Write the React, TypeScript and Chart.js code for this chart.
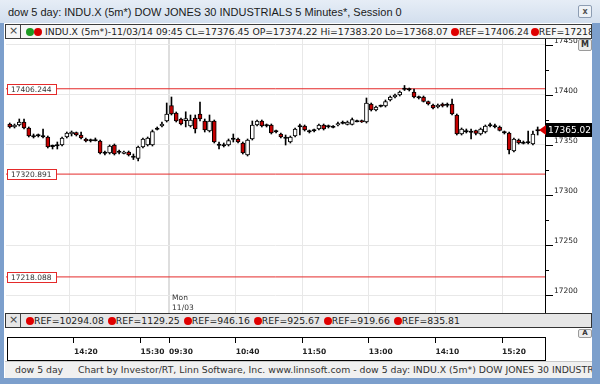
import React, { useEffect, useRef } from 'react';
import { Chart, registerables } from 'chart.js';
Chart.register(...registerables);

// ---- data (5-minute bars, 13:10 previous session .. 15:55 11/03) ----
const opens = [
  17371, 17368, 17370, 17373, 17367, 17359, 17359.5, 17358.5, 17358, 17349,
  17349.5, 17350, 17358, 17361, 17362.5, 17360, 17356, 17355, 17354.5, 17354,
  17342, 17342, 17350, 17343, 17341.5, 17343, 17338, 17336.5, 17348, 17350,
  17350, 17366, 17369, 17374, 17389.5, 17382, 17376, 17374.22, 17369, 17377,
  17381, 17374, 17364, 17374, 17350, 17350, 17350, 17356, 17356, 17352,
  17340, 17356, 17370, 17374, 17369.5, 17370, 17363.5, 17361, 17357, 17353,
  17359, 17368.5, 17369, 17364, 17364.5, 17366, 17370, 17368.5, 17368, 17370,
  17372, 17370.5, 17370.5, 17373.5, 17374.5, 17373, 17391, 17385, 17389, 17389,
  17395, 17398, 17400, 17406, 17406, 17403, 17398, 17398, 17393.5, 17390,
  17388, 17391, 17390, 17391, 17380, 17361, 17364, 17363, 17364.5, 17361,
  17363, 17370, 17368.5, 17368, 17363, 17362, 17344, 17355, 17352, 17352.5,
  17351, 17364.5,
];
const highs = [
  17372, 17371, 17376, 17376, 17368, 17361, 17361, 17366, 17359, 17350,
  17353, 17358, 17363, 17364, 17363, 17363, 17357, 17356, 17357, 17355,
  17344, 17350, 17351, 17345, 17344, 17344, 17341, 17349, 17357, 17358,
  17365, 17368, 17373, 17392, 17398, 17383, 17377, 17383.2, 17380, 17380,
  17393, 17376, 17380, 17375, 17353, 17352, 17356, 17361, 17357, 17353,
  17356, 17374, 17375, 17375, 17371, 17371, 17365, 17362, 17360, 17359,
  17367, 17371, 17370, 17365, 17366, 17371, 17371, 17370, 17369.5, 17373,
  17374, 17374, 17377, 17375, 17375, 17397, 17392, 17389, 17390, 17395,
  17399, 17401, 17404, 17409.5, 17407, 17406, 17399, 17399, 17394, 17391,
  17391, 17392, 17392, 17396, 17381, 17367, 17366, 17366, 17365, 17367,
  17370, 17372, 17371, 17369, 17364, 17363, 17357, 17356, 17354, 17364,
  17364, 17368,
];
const lows = [
  17367, 17367, 17369, 17366, 17358, 17357, 17358, 17357, 17347, 17346,
  17346, 17349, 17357, 17359, 17359, 17356, 17353, 17353, 17354, 17341,
  17340, 17341, 17340, 17341, 17341, 17339, 17335.5, 17334, 17347, 17349,
  17349, 17365, 17368, 17373, 17380, 17373, 17370, 17368.07, 17368, 17362,
  17374, 17363, 17363, 17352, 17346, 17348, 17349, 17353, 17352, 17341,
  17339, 17355, 17369, 17368, 17368, 17361, 17362, 17357, 17350, 17352,
  17358, 17360, 17364, 17362, 17363, 17365, 17365, 17367, 17367, 17369,
  17371, 17370, 17370, 17373, 17372.5, 17372, 17384, 17384, 17388, 17388,
  17394, 17397, 17399, 17404.5, 17404, 17397, 17396, 17393, 17390, 17386,
  17387, 17388, 17388, 17380, 17360, 17360, 17362, 17356, 17360, 17360,
  17362, 17368, 17367, 17364, 17361, 17341, 17343, 17351, 17351, 17351,
  17350, 17360,
];
const closes = [
  17368, 17370, 17373, 17367, 17359, 17358.5, 17360, 17359, 17348, 17349,
  17350, 17357, 17362, 17363, 17360, 17357, 17354, 17354.5, 17355, 17342,
  17342.5, 17349, 17341, 17343.5, 17343, 17340, 17338.5, 17348, 17356, 17357,
  17363.5, 17366.5, 17371, 17381, 17381, 17374, 17371, 17376.45, 17375, 17366,
  17376, 17365, 17374, 17353, 17350.5, 17349.5, 17354.5, 17356.5, 17353, 17342,
  17355, 17370, 17374, 17369, 17370, 17362, 17364, 17358, 17357.5, 17358,
  17366, 17369, 17365, 17363.5, 17365, 17370, 17366, 17369, 17368.5, 17371.5,
  17372.5, 17373, 17375.5, 17374, 17373, 17392, 17385, 17388, 17389.5, 17393.5,
  17398, 17400, 17403, 17406.5, 17405.5, 17398, 17397.5, 17393.5, 17391, 17387,
  17390, 17389, 17390.5, 17381, 17361, 17366, 17363.5, 17363.5, 17361.5, 17366,
  17369, 17369.5, 17369, 17364.5, 17362.5, 17345, 17356, 17352, 17352.5, 17353,
  17361, 17365.02,
];

const refLevels = [17406.244, 17320.891, 17218.088];
const refPanelValues = [10294.08, 1129.25, 946.16, 925.67, 919.66, 835.81];
const headerRefs = [17406.24, 17218.09, 17320.89];

const timeTickIdx = [14, 28, 34, 48, 62, 76, 90, 104];
const timeTickLabels = ['14:20', '15:30', '09:30', '10:40', '11:50', '13:00', '14:10', '15:20'];
const gridIdx = [13, 27, 34, 48, 62, 76, 90, 104];
const sessionStartIdx = 34;
const dayLabel = ['Mon', '11/03'];
const hoverIdx = 37;
const yTicks = [17200, 17225, 17250, 17275, 17300, 17325, 17350, 17375, 17400, 17425, 17450];

const X_MIN = -0.29;
const X_MAX = 113.04;
const Y_MIN = 17182;
const Y_MAX = 17456;

const FONT = '"DejaVu Sans", sans-serif';

const overlayPlugin = {
  id: 'overlay',
  afterDraw(chart: any) {
    const { ctx, chartArea } = chart;
    const xs = chart.scales.x;
    const ys = chart.scales.y;
    ctx.save();
    // axis ticks (major/minor)
    ctx.strokeStyle = '#000';
    ctx.lineWidth = 1;
    ys.ticks.forEach((t: any) => {
      const py = Math.round(ys.getPixelForValue(t.value)) + 0.5;
      const len = t.value % 50 === 0 ? 8 : 4;
      ctx.beginPath();
      ctx.moveTo(chartArea.right, py);
      ctx.lineTo(chartArea.right + len, py);
      ctx.stroke();
    });
    // reference labels
    ctx.font = '7.5px ' + FONT;
    ctx.textBaseline = 'middle';
    refLevels.forEach((v) => {
      const py = Math.round(ys.getPixelForValue(v));
      const txt = v.toFixed(3);
      const w = Math.round(ctx.measureText(txt).width) + 8;
      ctx.fillStyle = '#fff';
      ctx.fillRect(chartArea.left + 1.5, py - 4.5, w, 10);
      ctx.strokeStyle = '#e42a2a';
      ctx.strokeRect(chartArea.left + 1.5, py - 4.5, w, 10);
      ctx.fillStyle = '#333';
      ctx.fillText(txt, chartArea.left + 5, py + 1);
    });
    // day label
    const dx = xs.getPixelForValue(sessionStartIdx) + 3;
    ctx.fillStyle = '#333';
    ctx.fillText(dayLabel[0], dx, chartArea.bottom - 15);
    ctx.fillText(dayLabel[1], dx, chartArea.bottom - 5);
    // last price marker
    const last = closes[closes.length - 1];
    const py = Math.round(ys.getPixelForValue(last));
    ctx.fillStyle = '#d40000';
    ctx.beginPath();
    ctx.moveTo(chartArea.right - 6, py);
    ctx.lineTo(chartArea.right + 1, py - 5);
    ctx.lineTo(chartArea.right + 1, py + 5);
    ctx.closePath();
    ctx.fill();
    ctx.fillStyle = '#000';
    ctx.fillRect(chartArea.right + 1, py - 7, chart.width - chartArea.right - 1, 14);
    ctx.fillStyle = '#fff';
    ctx.font = '9px ' + FONT;
    ctx.fillText(last.toFixed(2), chartArea.right + 3, py + 0.5);
    ctx.restore();
  },
};

const Dot = ({ color }: { color: string }) => (
  <span
    style={{
      display: 'inline-block',
      width: 8,
      height: 8,
      borderRadius: '50%',
      background: color,
      marginRight: 0,
      verticalAlign: 'middle',
      position: 'relative',
      top: -1,
    }}
  />
);

const XBox = ({ left, top }: { left: number; top: number }) => (
  <div
    style={{
      position: 'absolute',
      left,
      top,
      width: 14,
      height: 13,
      boxSizing: 'border-box',
      borderRight: '1px solid #444',
      font: '11px ' + FONT,
      lineHeight: '12px',
      textAlign: 'center',
      color: '#444',
    }}
  >
    ×
  </div>
);

export default function App() {
  const mainRef = useRef<HTMLCanvasElement>(null);
  const axisRef = useRef<HTMLCanvasElement>(null);

  useEffect(() => {
    const bodies = opens.map((o, i) => {
      const c = closes[i];
      let lo = Math.min(o, c);
      let hi = Math.max(o, c);
      if (hi - lo < 0.8) {
        const m = (hi + lo) / 2;
        lo = m - 0.6;
        hi = m + 0.6;
      }
      return { x: i + 0.5, y: [lo, hi] };
    });
    const bodyColors = opens.map((o, i) =>
      Math.abs(closes[i] - o) < 0.8 ? '#000' : closes[i] > o ? '#fff' : '#c40000'
    );
    const wicks = highs.map((h, i) => ({ x: i + 0.5, y: [lows[i], h] }));
    const refSets = refLevels.map((v) => ({
      type: 'line' as const,
      data: [
        { x: X_MIN, y: v },
        { x: X_MAX, y: v },
      ],
      borderColor: '#e42a2a',
      borderWidth: 1,
      pointRadius: 0,
      order: 2,
    }));

    const main = new Chart(mainRef.current as HTMLCanvasElement, {
      type: 'bar',
      data: {
        datasets: [
          {
            type: 'bar',
            data: bodies as any,
            backgroundColor: bodyColors,
            borderColor: '#000',
            borderWidth: 1,
            borderSkipped: false,
            barThickness: 4,
            grouped: false,
            order: 0,
          } as any,
          {
            type: 'bar',
            data: wicks as any,
            backgroundColor: '#000',
            borderWidth: 0,
            barThickness: 1,
            grouped: false,
            order: 1,
          } as any,
          ...(refSets as any[]),
        ],
      },
      options: {
        animation: false,
        responsive: false,
        maintainAspectRatio: false,
        devicePixelRatio: 1,
        layout: { padding: 0 },
        plugins: { legend: { display: false }, tooltip: { enabled: false } },
        scales: {
          x: {
            type: 'linear',
            min: X_MIN,
            max: X_MAX,
            offset: false,
            afterBuildTicks: (s: any) => {
              s.ticks = gridIdx.map((v) => ({ value: v }));
            },
            afterFit: (s: any) => {
              s.height = 0;
              s.paddingLeft = 0;
              s.paddingRight = 0;
            },
            ticks: { display: false },
            grid: {
              offset: false,
              drawTicks: false,
              color: (c: any) => (c.tick && c.tick.value === sessionStartIdx ? '#dedede' : '#e8e8e8'),
              lineWidth: (c: any) => (c.tick && c.tick.value === sessionStartIdx ? 2 : 1),
            },
            border: { display: false },
          },
          y: {
            type: 'linear',
            position: 'right',
            min: Y_MIN,
            max: Y_MAX,
            afterBuildTicks: (s: any) => {
              s.ticks = yTicks.map((v) => ({ value: v }));
            },
            afterFit: (s: any) => {
              s.width = 47;
              s.paddingTop = 0;
              s.paddingBottom = 0;
            },
            ticks: {
              autoSkip: false,
              padding: 9,
              labelOffset: -4,
              color: '#222',
              font: { family: 'DejaVu Sans', size: 7.5 },
              callback: (v: any) => (Number(v) % 50 === 0 ? String(v) : ''),
            },
            grid: {
              drawTicks: false,
              color: (c: any) => (c.tick && c.tick.value % 50 === 0 ? '#e8e8e8' : 'rgba(0,0,0,0)'),
            },
            border: { display: true, color: '#000', width: 1 },
          },
        },
      } as any,
      plugins: [overlayPlugin],
    });

    const axis = new Chart(axisRef.current as HTMLCanvasElement, {
      type: 'scatter',
      data: { datasets: [{ data: [] }] },
      options: {
        animation: false,
        responsive: false,
        maintainAspectRatio: false,
        devicePixelRatio: 1,
        layout: { padding: 0 },
        plugins: { legend: { display: false }, tooltip: { enabled: false } },
        scales: {
          x: {
            type: 'linear',
            position: 'bottom',
            min: X_MIN,
            max: X_MAX,
            afterBuildTicks: (s: any) => {
              s.ticks = timeTickIdx.map((v) => ({ value: v }));
            },
            afterFit: (s: any) => {
              s.height = 18;
              s.paddingLeft = 0;
              s.paddingRight = 0;
            },
            ticks: {
              autoSkip: false,
              maxRotation: 0,
              align: 'start',
              padding: 5,
              color: '#222',
              font: { family: 'DejaVu Sans', size: 7.5, weight: 'bold' },
              callback: (v: any) => timeTickLabels[timeTickIdx.indexOf(Number(v))] ?? '',
            },
            grid: { drawTicks: false, color: '#000', lineWidth: 1 },
            border: { display: false },
          },
          y: { display: false, min: 0, max: 1 },
        },
      } as any,
    });

    return () => {
      main.destroy();
      axis.destroy();
    };
  }, []);

  const headerText =
    `INDU.X (5m*)-11/03/14 09:45 CL=${closes[hoverIdx].toFixed(2)} OP=${opens[hoverIdx].toFixed(2)} ` +
    `Hi=${highs[hoverIdx].toFixed(2)} Lo=${lows[hoverIdx].toFixed(2)}`;

  const small: React.CSSProperties = { font: '9.3px ' + FONT, color: '#222', whiteSpace: 'nowrap' };

  return (
    <div
      style={{
        position: 'fixed',
        left: 0,
        top: 0,
        width: 600,
        height: 384,
        overflow: 'hidden',
        background: '#7c9fcc',
      }}
    >
      {/* title bar */}
      <div
        style={{
          position: 'absolute',
          left: 0,
          top: 0,
          width: 600,
          height: 23,
          background: 'linear-gradient(#e6edf6, #d3dfee)',
        }}
      />
      <div
        style={{
          position: 'absolute',
          left: 8,
          top: 4,
          font: '11px "Liberation Sans", Arial, sans-serif',
          lineHeight: '16px',
          color: '#1a1a1a',
          whiteSpace: 'nowrap',
        }}
      >
        dow 5 day: INDU.X (5m*) DOW JONES 30 INDUSTRIALS 5 Minutes*, Session 0
      </div>
      <div
        style={{
          position: 'absolute',
          left: 578,
          top: 5,
          width: 14,
          height: 13,
          boxSizing: 'border-box',
          border: '1px solid #8d9db3',
          borderRadius: 2,
          background: '#eef2f7',
          font: 'bold 8px ' + FONT,
          lineHeight: '11px',
          textAlign: 'center',
          color: '#555',
        }}
      >
        x
      </div>

      {/* white content panel */}
      <div
        style={{
          position: 'absolute',
          left: 4,
          top: 23,
          width: 588,
          height: 355,
          background: '#fff',
        }}
      />

      {/* header row */}
      <div
        style={{
          position: 'absolute',
          left: 5,
          top: 24,
          width: 587,
          height: 15,
          boxSizing: 'border-box',
          border: '1px solid #3c3c3c',
          background: '#f6f6f6',
        }}
      />
      <XBox left={7} top={25} />
      <div style={{ position: 'absolute', left: 26, top: 24, height: 15, lineHeight: '15px' }}>
        <Dot color="#1c9a22" />
        <Dot color="#d60000" />
      </div>
      <div style={{ ...small, position: 'absolute', left: 45, top: 24, lineHeight: '15px' }}>{headerText}</div>
      <div
        style={{
          ...small,
          position: 'absolute',
          left: 451,
          top: 24,
          width: 140,
          overflow: 'hidden',
          lineHeight: '15px',
        }}
      >
        {headerRefs.map((v, i) => (
          <span key={i} style={{ marginRight: 2 }}>
            <Dot color="#e00000" />
            REF={v.toFixed(2)}
          </span>
        ))}
      </div>

      {/* main chart */}
      <canvas
        ref={mainRef}
        width={586}
        height={274}
        style={{ position: 'absolute', left: 6, top: 39, width: 586, height: 274 }}
      />
      <div
        style={{
          position: 'absolute',
          left: 578,
          top: 39,
          width: 14,
          height: 12,
          boxSizing: 'border-box',
          border: '1px solid #9a9a9a',
          borderRadius: 2,
          background: '#ececec',
          font: 'bold 8px ' + FONT,
          lineHeight: '10px',
          textAlign: 'center',
          color: '#333',
        }}
      >
        M
      </div>

      {/* REF panel */}
      <div
        style={{
          position: 'absolute',
          left: 5,
          top: 313,
          width: 587,
          height: 15,
          boxSizing: 'border-box',
          border: '1px solid #333',
          background: '#e6e6e6',
        }}
      />
      <XBox left={7} top={314} />
      <div
        style={{
          ...small,
          position: 'absolute',
          left: 26,
          top: 313,
          lineHeight: '15px',
          display: 'flex',
          gap: 4,
        }}
      >
        {refPanelValues.map((v, i) => (
          <span key={i}>
            <Dot color="#e00000" />
            REF={v.toFixed(2)}
          </span>
        ))}
      </div>
      <div
        style={{
          position: 'absolute',
          left: 578,
          top: 329,
          width: 14,
          height: 9,
          boxSizing: 'border-box',
          border: '1px solid #9a9a9a',
          borderRadius: 2,
          background: '#ececec',
          font: 'bold 7px ' + FONT,
          lineHeight: '7px',
          textAlign: 'center',
          color: '#333',
        }}
      >
        A
      </div>

      {/* time axis */}
      <div
        style={{
          position: 'absolute',
          left: 7,
          top: 337,
          width: 539,
          height: 24,
          boxSizing: 'border-box',
          border: '1px solid #000',
        }}
      />
      <canvas
        ref={axisRef}
        width={539}
        height={24}
        style={{ position: 'absolute', left: 6, top: 337, width: 539, height: 24 }}
      />

      {/* footer */}
      <div
        style={{
          position: 'absolute',
          left: 5,
          top: 361,
          width: 587,
          height: 17,
          background: '#f0f0f0',
          borderTop: '1px solid #c8c8c8',
          boxSizing: 'border-box',
        }}
      />
      <div style={{ ...small, position: 'absolute', left: 15, top: 362, lineHeight: '15px', color: '#333' }}>
        dow 5 day
      </div>
      <div
        style={{
          ...small,
          position: 'absolute',
          left: 78,
          top: 362,
          width: 514,
          overflow: 'hidden',
          lineHeight: '15px',
          color: '#333',
        }}
      >
        Chart by Investor/RT, Linn Software, Inc. www.linnsoft.com - dow 5 day: INDU.X (5m*) DOW JONES 30 INDUSTRIALS 5 Minutes*, Session 0
      </div>
    </div>
  );
}
